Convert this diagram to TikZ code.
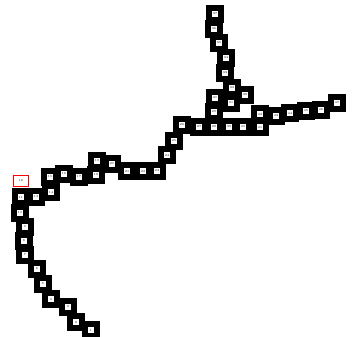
\documentclass[tikz,border=0pt]{standalone}
\begin{document}
\begin{tikzpicture}[x=1pt,y=-1pt,
  blk/.style={rectangle,fill=black,draw=none,minimum size=18.5pt,inner sep=0pt},
  lab/.style={rectangle,fill=white,draw=none,minimum size=6.8pt,inner sep=0pt,font=\fontsize{3}{3}\selectfont},
  sel/.style={rectangle,fill=white,draw=red,line width=0.8pt,minimum width=15pt,minimum height=11.5pt,inner sep=0pt,font=\fontsize{3}{3}\selectfont}]
\useasboundingbox (0,0) rectangle (356,337);
\foreach \i/\x/\y in {1/91/330,2/76/322,3/68/307,4/51/299,5/43/284,6/37/269,7/25/255,8/24/241,9/25/227,10/20/213,11/21/197,13/36/197,14/51/192,15/50/177,16/64/174,17/79/177,18/96/175,19/97/161,20/112/164,21/127/171,22/143/171,23/157/171,24/167/155,25/174/141,26/182/125,27/199/127,28/214/127,29/214/112,30/215/98,31/231/103,32/232/88,33/225/73,34/226/58,35/219/43,36/214/29,37/215/14,38/245/95,39/229/127,40/243/127,41/260/127,42/260/114,43/276/116,44/290/113,45/306/111,46/321/110,47/337/103}
  \node[blk] (b\i) at (\x,\y) {};
\foreach \i/\x/\y in {1/91/330,2/76/322,3/68/307,4/51/299,5/43/284,6/37/269,7/25/255,8/24/241,9/25/227,10/20/213,11/21/197,13/36/197,14/51/192,15/50/177,16/64/174,17/79/177,18/96/175,19/97/161,20/112/164,21/127/171,22/143/171,23/157/171,24/167/155,25/174/141,26/182/125,27/199/127,28/214/127,29/214/112,30/215/98,31/231/103,32/232/88,33/225/73,34/226/58,35/219/43,36/214/29,37/215/14,38/245/95,39/229/127,40/243/127,41/260/127,42/260/114,43/276/116,44/290/113,45/306/111,46/321/110,47/337/103}
  \node[lab] (n\i) at (b\i) {\i};
\node[sel] (n12) at (21,181) {12};
\end{tikzpicture}
\end{document}
